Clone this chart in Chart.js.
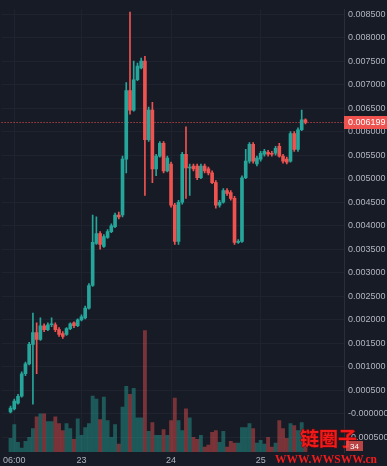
<!DOCTYPE html>
<html>
<head>
<meta charset="utf-8">
<script src="https://cdn.jsdelivr.net/npm/chart.js@4.4.0/dist/chart.umd.min.js"></script>
<style>
  html, body { margin: 0; padding: 0; background: #171b26; }
  #contenedor { width: 387px; height: 466px; position: relative; }
</style>
</head>
<body>
<div id="contenedor"><canvas id="graficaVelas"></canvas></div>
<script>
/* Velas horarias: desde el 22 05:00 hasta el 25 12:00 (índice = hora) */

const aperturas = [
  0.000042, 0.000104, 0.000229, 0.000375, 0.000854, 0.001063, 0.001479, 0.001729, 0.001583, 0.001875,
  0.001792, 0.001896, 0.001896, 0.001792, 0.001708, 0.001688, 0.001813, 0.001938, 0.001875, 0.002000,
  0.002042, 0.002250, 0.002729, 0.003625, 0.003833, 0.003563, 0.003750, 0.003875, 0.003979, 0.004229,
  0.004229, 0.005417, 0.006875, 0.006458, 0.007104, 0.007354, 0.007500, 0.005833, 0.006458, 0.005208,
  0.005479, 0.005750, 0.005167, 0.005313, 0.004438, 0.003667, 0.004500, 0.005521, 0.005229, 0.005271,
  0.005271, 0.005021, 0.005271, 0.005208, 0.005125, 0.004917, 0.004438, 0.004500, 0.004750, 0.004708,
  0.004583, 0.003667, 0.003667, 0.005021, 0.005375, 0.005729, 0.005313, 0.005417, 0.005521, 0.005563,
  0.005542, 0.005542, 0.005688, 0.005479, 0.005417, 0.005375, 0.005958, 0.005625, 0.006042, 0.006250
];
const maximos = [
  0.000167, 0.000313, 0.000417, 0.000896, 0.001104, 0.001521, 0.002146, 0.001938, 0.002042, 0.001917,
  0.001938, 0.002042, 0.001938, 0.001833, 0.001750, 0.001833, 0.001938, 0.001958, 0.002021, 0.002104,
  0.002292, 0.002771, 0.004229, 0.004188, 0.003875, 0.003813, 0.003917, 0.004042, 0.004271, 0.004292,
  0.005479, 0.007042, 0.008542, 0.007500, 0.007458, 0.007563, 0.007604, 0.006521, 0.006625, 0.005521,
  0.005792, 0.005792, 0.005479, 0.005354, 0.004479, 0.004542, 0.005563, 0.006104, 0.005313, 0.005313,
  0.005313, 0.005313, 0.005313, 0.005250, 0.005167, 0.004958, 0.004542, 0.004792, 0.004792, 0.004750,
  0.004625, 0.003708, 0.005063, 0.005625, 0.005771, 0.005771, 0.005479, 0.005583, 0.005625, 0.005604,
  0.005583, 0.005688, 0.005750, 0.005521, 0.005458, 0.006000, 0.006000, 0.006083, 0.006458, 0.006271
];
const minimos = [
  0.000021, 0.000083, 0.000208, 0.000354, 0.000813, 0.001042, 0.000208, 0.000854, 0.001563, 0.001750,
  0.001771, 0.001854, 0.001750, 0.001646, 0.001604, 0.001667, 0.001792, 0.001833, 0.001854, 0.001979,
  0.002021, 0.002229, 0.002708, 0.003604, 0.003500, 0.003542, 0.003729, 0.003854, 0.003958, 0.004146,
  0.004188, 0.005125, 0.006375, 0.006438, 0.007083, 0.007333, 0.004646, 0.005792, 0.004917, 0.005063,
  0.005458, 0.005125, 0.005146, 0.004396, 0.003604, 0.003604, 0.004458, 0.004583, 0.004646, 0.005167,
  0.004979, 0.005000, 0.005125, 0.005083, 0.004896, 0.004375, 0.004396, 0.004479, 0.004646, 0.004542,
  0.003604, 0.003625, 0.003646, 0.005000, 0.005333, 0.005333, 0.005271, 0.005375, 0.005479, 0.005479,
  0.005479, 0.005500, 0.005458, 0.005333, 0.005313, 0.005354, 0.005583, 0.005583, 0.006021, 0.006167
];
const cierres = [
  0.000125, 0.000271, 0.000375, 0.000854, 0.001063, 0.001479, 0.001729, 0.001583, 0.001875, 0.001792,
  0.001896, 0.001917, 0.001792, 0.001688, 0.001646, 0.001813, 0.001917, 0.001875, 0.002000, 0.002063,
  0.002250, 0.002729, 0.003646, 0.003833, 0.003604, 0.003771, 0.003875, 0.004000, 0.004229, 0.004188,
  0.005417, 0.006875, 0.006458, 0.007104, 0.007396, 0.007500, 0.005833, 0.006458, 0.005208, 0.005479,
  0.005750, 0.005167, 0.005438, 0.004438, 0.003667, 0.004500, 0.005521, 0.005229, 0.005250, 0.005208,
  0.005021, 0.005271, 0.005167, 0.005125, 0.004917, 0.004438, 0.004500, 0.004750, 0.004688, 0.004583,
  0.003646, 0.003667, 0.005021, 0.005375, 0.005729, 0.005375, 0.005438, 0.005542, 0.005583, 0.005521,
  0.005521, 0.005646, 0.005479, 0.005375, 0.005354, 0.005958, 0.005625, 0.006042, 0.006250, 0.006199
];
const volumenes = [
  56, 112, 40, 16, 44, 60, 96, 144, 156, 156,
  124, 124, 144, 116, 88, 116, 96, 52, 136, 68,
  100, 116, 228, 216, 132, 224, 128, 60, 112, 32,
  184, 268, 236, 260, 140, 140, 496, 84, 120, 68,
  68, 92, 68, 128, 220, 128, 88, 176, 140, 60,
  52, 68, 20, 28, 80, 88, 40, 84, 20, 44,
  36, 36, 100, 100, 116, 96, 36, 48, 32, 60,
  20, 36, 128, 96, 56, 116, 108, 88, 120, 34
];

const posicionesX = [1, 19, 43, 67];
const etiquetasX = ['06:00', '23', '24', '25'];
const ticksPrecio = [-0.0005, 0, 0.0005, 0.001, 0.0015, 0.002, 0.0025, 0.003, 0.0035, 0.004,
  0.0045, 0.005, 0.0055, 0.006, 0.0065, 0.007, 0.0075, 0.008, 0.0085];
const precioActual = 0.006199;
const volumenActual = 34;

const colorSube = '#26a69a';
const colorBaja = '#ef5350';
const colorTexto = '#b2b5be';
const colorRejilla = '#1f2330';
const fuente = 'Liberation Sans';

const sube = aperturas.map((o, i) => cierres[i] >= o);

// Dibuja líneas y etiquetas que no son series (precio actual, volumen, marca de agua)
const marcasExtra = {
  id: 'marcasExtra',
  beforeDatasetsDraw(chart) {
    const { ctx, chartArea, scales } = chart;
    const y = Math.round(scales.y.getPixelForValue(precioActual)) + 0.5;
    ctx.save();
    ctx.strokeStyle = colorBaja;
    ctx.lineWidth = 1;
    ctx.setLineDash([1, 2]);
    ctx.beginPath();
    ctx.moveTo(chartArea.left, y);
    ctx.lineTo(chartArea.right, y);
    ctx.stroke();
    ctx.restore();
  },
  afterDraw(chart) {
    const { ctx, chartArea, scales } = chart;
    const y = Math.round(scales.y.getPixelForValue(precioActual));
    ctx.save();
    ctx.fillStyle = colorBaja;
    ctx.fillRect(chartArea.right, y - 6, 387 - chartArea.right, 13);
    ctx.fillStyle = '#ffffff';
    ctx.font = '9px "' + fuente + '"';
    ctx.textBaseline = 'middle';
    ctx.fillText(precioActual.toFixed(6), chartArea.right + 4, y + 0.5);

    // marca de agua
    ctx.fillStyle = '#f21a1a';
    ctx.strokeStyle = '#7a0c0c';
    ctx.lineWidth = 1;
    ctx.textBaseline = 'alphabetic';
    ctx.font = 'bold 19px "Noto Sans CJK SC"';
    ctx.strokeText('链圈子', 300, 446);
    ctx.fillText('链圈子', 300, 446);

    // etiqueta del volumen actual
    ctx.fillStyle = 'rgba(239, 83, 80, 0.75)';
    ctx.fillRect(chartArea.right + 2, 441, 17, 10);
    ctx.fillStyle = '#ffffff';
    ctx.font = '8px "' + fuente + '"';
    ctx.textBaseline = 'middle';
    ctx.fillText(String(volumenActual), chartArea.right + 6, 446.5);

    ctx.fillStyle = '#f21a1a';
    ctx.textBaseline = 'alphabetic';
    ctx.font = 'bold 12px "Liberation Serif"';
    const texto = 'WWW.WWSWW.cn';
    const ancho = ctx.measureText(texto).width;
    ctx.translate(275, 463);
    ctx.scale(102 / ancho, 1);
    ctx.fillText(texto, 0, 0);
    ctx.restore();
  }
};

new Chart(document.getElementById('graficaVelas'), {
  type: 'bar',
  data: {
    datasets: [
      {
        label: 'Cuerpo',
        data: aperturas.map((o, i) => ({ x: i, y: [o, cierres[i]] })),
        backgroundColor: sube.map(s => s ? colorSube : colorBaja),
        barThickness: 3,
        minBarLength: 1,
        grouped: false,
        yAxisID: 'y',
        order: 1
      },
      {
        label: 'Mecha',
        data: minimos.map((l, i) => ({ x: i, y: [l, maximos[i]] })),
        backgroundColor: sube.map(s => s ? colorSube : colorBaja),
        barThickness: 1,
        grouped: false,
        yAxisID: 'y',
        order: 2
      },
      {
        label: 'Volumen',
        data: volumenes.map((v, i) => ({ x: i, y: v })),
        backgroundColor: sube.map(s => s ? 'rgba(38, 166, 154, 0.45)' : 'rgba(239, 83, 80, 0.45)'),
        barThickness: 3.2,
        grouped: false,
        yAxisID: 'vol',
        order: 3
      }
    ]
  },
  options: {
    responsive: true,
    maintainAspectRatio: false,
    animation: false,
    layout: { padding: 0 },
    plugins: { legend: { display: false }, tooltip: { enabled: false } },
    scales: {
      x: {
        type: 'linear',
        min: -2.4,
        max: 89.33,
        offset: false,
        grid: { color: colorRejilla, offset: false, drawTicks: false },
        border: { display: false },
        afterBuildTicks: (escala) => { escala.ticks = posicionesX.map(v => ({ value: v })); },
        afterFit: (escala) => { escala.height = 14; },
        ticks: {
          autoSkip: false,
          maxRotation: 0,
          padding: 3,
          color: colorTexto,
          font: { family: fuente, size: 9 },
          callback: (v) => etiquetasX[posicionesX.indexOf(v)]
        }
      },
      y: {
        position: 'right',
        min: -0.00081,
        max: 0.0086,
        grid: { color: colorRejilla, drawTicks: false },
        border: { color: '#2a2e39' },
        afterBuildTicks: (escala) => { escala.ticks = ticksPrecio.map(v => ({ value: v })); },
        afterFit: (escala) => { escala.width = 43; },
        ticks: {
          autoSkip: false,
          padding: 4,
          color: colorTexto,
          font: { family: fuente, size: 9 },
          callback: (v) => v === 0 ? '-0.000000' : v.toFixed(6)
        }
      },
      vol: {
        display: false,
        min: 0,
        max: 1808
      }
    }
  },
  plugins: [marcasExtra]
});
</script>
</body>
</html>
